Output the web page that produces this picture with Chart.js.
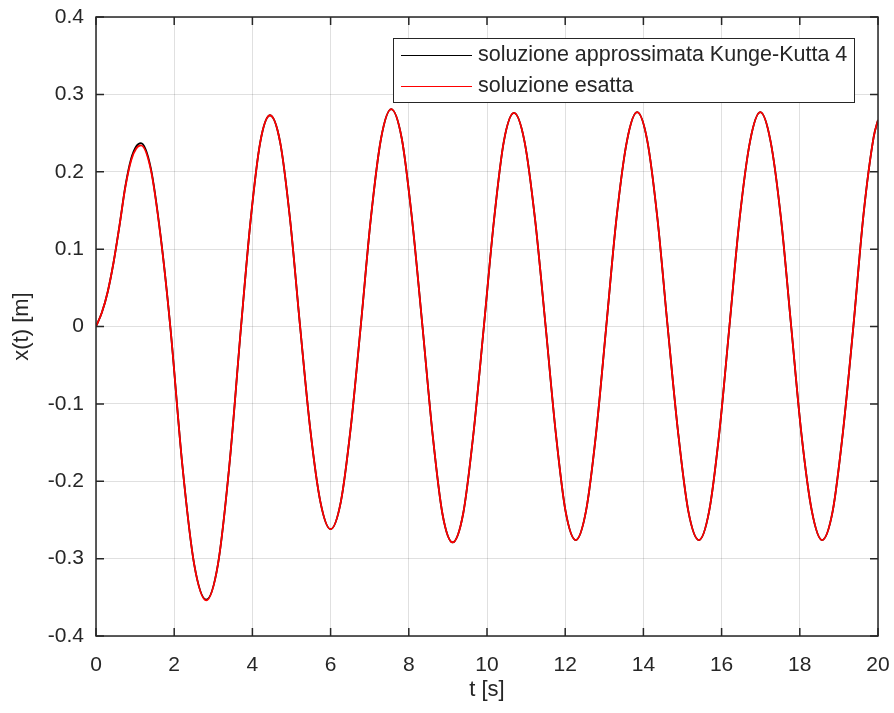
<!DOCTYPE html>
<html>
<head>
<meta charset="utf-8">
<script src="https://cdn.jsdelivr.net/npm/chart.js@4/dist/chart.umd.min.js"></script>
<style>
html, body { margin: 0; padding: 0; background: #fff; }
#wrap { width: 894px; height: 713px; }
</style>
</head>
<body>
<div id="wrap"><canvas id="grafico"></canvas></div>
<script>
// istanti di tempo [s]
const tempi = [
    0, 0.15, 0.3, 0.45, 0.6, 0.75, 0.9, 1.03, 1.15, 1.40, 1.65, 1.90,
    2.21, 2.51, 2.82, 3.12, 3.41, 3.71,
    3.96, 4.20, 4.45, 4.71, 4.96, 5.22,
    5.48, 5.74, 6.00, 6.26, 6.51, 6.77,
    7.03, 7.29, 7.55, 7.82, 8.08, 8.35,
    8.61, 8.86, 9.12, 9.39, 9.65, 9.92,
    10.18, 10.43, 10.69, 10.96, 11.23, 11.50,
    11.76, 12.01, 12.27, 12.53, 12.79, 13.05,
    13.31, 13.58, 13.84, 14.10, 14.36, 14.62,
    14.89, 15.15, 15.42, 15.68, 15.94, 16.20,
    16.46, 16.73, 16.99, 17.25, 17.52, 17.78,
    18.04, 18.31, 18.57, 18.84, 19.10, 19.37,
    19.63, 19.89, 20.0
];

// soluzione esatta x(t) [m]
const esatta = [
    0, 0.018, 0.045, 0.083, 0.13, 0.18, 0.215, 0.23, 0.234, 0.203, 0.117, 0,
    -0.18, -0.307, -0.354, -0.307, -0.18, 0,
    0.14, 0.238, 0.273, 0.238, 0.14, 0,
    -0.133, -0.227, -0.262, -0.227, -0.133, 0,
    0.14, 0.243, 0.281, 0.243, 0.14, 0,
    -0.14, -0.242, -0.279, -0.242, -0.14, 0,
    0.138, 0.239, 0.276, 0.239, 0.138, 0,
    -0.138, -0.239, -0.276, -0.239, -0.138, 0,
    0.139, 0.24, 0.277, 0.24, 0.139, 0,
    -0.138, -0.239, -0.276, -0.239, -0.138, 0,
    0.139, 0.24, 0.277, 0.24, 0.139, 0,
    -0.138, -0.239, -0.276, -0.239, -0.138, 0,
    0.145, 0.245, 0.267
];

// soluzione approssimata Runge-Kutta 4 (si scosta solo sul primo picco)
const rk4 = [
    0, 0.018, 0.045, 0.083, 0.13, 0.181, 0.217, 0.233, 0.237, 0.205, 0.118, 0,
    -0.18, -0.307, -0.353, -0.307, -0.18, 0,
    0.14, 0.238, 0.273, 0.238, 0.14, 0,
    -0.133, -0.227, -0.262, -0.227, -0.133, 0,
    0.14, 0.243, 0.281, 0.243, 0.14, 0,
    -0.14, -0.242, -0.279, -0.242, -0.14, 0,
    0.138, 0.239, 0.276, 0.239, 0.138, 0,
    -0.138, -0.239, -0.276, -0.239, -0.138, 0,
    0.139, 0.24, 0.277, 0.24, 0.139, 0,
    -0.138, -0.239, -0.276, -0.239, -0.138, 0,
    0.139, 0.24, 0.277, 0.24, 0.139, 0,
    -0.138, -0.239, -0.276, -0.239, -0.138, 0,
    0.145, 0.245, 0.267
];

const xTicks = [0, 2, 4, 6, 8, 10, 12, 14, 16, 18, 20];
const yTicks = [-0.4, -0.3, -0.2, -0.1, 0, 0.1, 0.2, 0.3, 0.4];

const labelRk4 = "soluzione approssimata Kunge-Kutta 4";
const labelEsatta = "soluzione esatta";

const FONT = "'Liberation Sans', Arial, Helvetica, sans-serif";
const INK = "#262626";

const punti = (ys) => tempi.map((t, i) => ({ x: t, y: ys[i] }));

function formatY(v) {
    if (Math.abs(v) < 1e-9) return "0";
    return v.toFixed(1);
}

// riquadro degli assi con tacche verso l'interno, come in MATLAB
const boxAssi = {
    id: "boxAssi",
    afterDraw(chart) {
        const { ctx, chartArea: a, scales } = chart;
        const tl = 8;
        ctx.save();
        ctx.strokeStyle = INK;
        ctx.lineWidth = 1.5;
        ctx.strokeRect(a.left, a.top, a.right - a.left, a.bottom - a.top);
        ctx.beginPath();
        xTicks.forEach(v => {
            const px = scales.x.getPixelForValue(v);
            ctx.moveTo(px, a.bottom); ctx.lineTo(px, a.bottom - tl);
            ctx.moveTo(px, a.top); ctx.lineTo(px, a.top + tl);
        });
        yTicks.forEach(v => {
            const py = scales.y.getPixelForValue(v);
            ctx.moveTo(a.left, py); ctx.lineTo(a.left + tl, py);
            ctx.moveTo(a.right, py); ctx.lineTo(a.right - tl, py);
        });
        ctx.stroke();
        ctx.restore();
    }
};

// legenda dentro l'area del grafico, in alto a destra
const legendaInterna = {
    id: "legendaInterna",
    afterDraw(chart) {
        const { ctx } = chart;
        const x0 = 393.5, y0 = 38.5, w = 461, h = 64;
        ctx.save();
        ctx.fillStyle = "#fff";
        ctx.fillRect(x0, y0, w, h);
        ctx.strokeStyle = INK;
        ctx.lineWidth = 1;
        ctx.strokeRect(x0, y0, w, h);
        const righe = [
            { label: labelRk4, color: "#000", y: 55 },
            { label: labelEsatta, color: "#ff0000", y: 86 }
        ];
        ctx.font = "21.5px " + FONT;
        ctx.textBaseline = "middle";
        righe.forEach(r => {
            ctx.strokeStyle = r.color;
            ctx.lineWidth = 1;
            ctx.beginPath();
            ctx.moveTo(401, r.y + 0.5);
            ctx.lineTo(472, r.y + 0.5);
            ctx.stroke();
            ctx.fillStyle = INK;
            ctx.fillText(r.label, 478, r.y);
        });
        ctx.restore();
    }
};

new Chart(document.getElementById("grafico"), {
    type: "line",
    data: {
        datasets: [
            {
                label: labelRk4,
                data: punti(rk4),
                borderColor: "#000000",
                borderWidth: 1.8,
                pointRadius: 0,
                fill: false,
                cubicInterpolationMode: "monotone",
                order: 2
            },
            {
                label: labelEsatta,
                data: punti(esatta),
                borderColor: "#ff0000",
                borderWidth: 1.8,
                pointRadius: 0,
                fill: false,
                cubicInterpolationMode: "monotone",
                order: 1
            }
        ]
    },
    options: {
        responsive: true,
        maintainAspectRatio: false,
        animation: false,
        layout: { padding: { top: 17, right: 16, left: 0, bottom: 0 } },
        plugins: {
            legend: { display: false },
            tooltip: { enabled: false }
        },
        scales: {
            x: {
                type: "linear",
                min: 0,
                max: 20,
                afterBuildTicks: s => { s.ticks = xTicks.map(v => ({ value: v })); },
                afterFit: s => { s.height = 77; s.paddingLeft = 0; s.paddingRight = 0; },
                grid: { color: "rgba(0,0,0,0.12)", lineWidth: 1, drawTicks: false },
                border: { display: false },
                ticks: {
                    color: INK,
                    padding: 17,
                    font: { family: FONT, size: 21 },
                    maxRotation: 0
                },
                title: {
                    display: true,
                    text: "t [s]",
                    color: INK,
                    font: { family: FONT, size: 22 },
                    padding: { top: 0, bottom: 10 }
                }
            },
            y: {
                type: "linear",
                min: -0.4,
                max: 0.4,
                afterBuildTicks: s => { s.ticks = yTicks.map(v => ({ value: v })); },
                afterFit: s => { s.width = 96; s.paddingTop = 0; s.paddingBottom = 0; },
                grid: { color: "rgba(0,0,0,0.12)", lineWidth: 1, drawTicks: false },
                border: { display: false },
                ticks: {
                    color: INK,
                    padding: 12,
                    font: { family: FONT, size: 21 },
                    callback: v => formatY(v)
                },
                title: {
                    display: true,
                    text: "x(t) [m]",
                    color: INK,
                    font: { family: FONT, size: 22 },
                    padding: { top: 9, bottom: 0 }
                }
            }
        }
    },
    plugins: [boxAssi, legendaInterna]
});
</script>
</body>
</html>
